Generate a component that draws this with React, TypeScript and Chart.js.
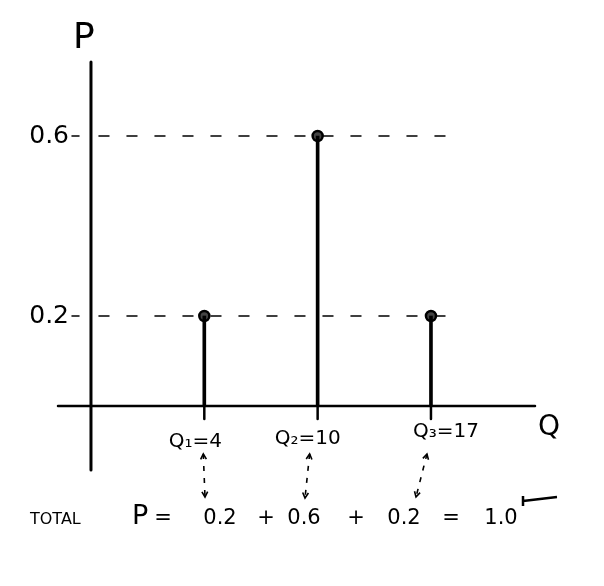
import React, { useEffect, useRef } from "react";
import { Chart, registerables } from "chart.js";

Chart.register(...registerables);

// ---- data ----
const categories = ["Q₁=4", "Q₂=10", "Q₃=17"];
const qValues = [4, 10, 17];
const probs = [0.2, 0.6, 0.2];
const yTickValues = [0.2, 0.6];
const yTickLabels = ["0.2", "0.6"];
const axisTitleY = "P";
const axisTitleX = "Q";
const totalLabel = "TOTAL";
const totalSymbol = "P";
const totalTokens = ["=", "0.2", "+", "0.6", "+", "0.2", "=", "1.0"];

const FONT = "'DejaVu Sans', sans-serif";

const sketchPlugin = {
  id: "sketch",
  beforeDatasetsDraw(chart: any) {
    const { ctx, chartArea, scales } = chart;
    const xs = scales.x;
    const ys = scales.y;
    const ax = xs.getPixelForValue(0);
    const ay = ys.getPixelForValue(0);
    ctx.save();
    ctx.strokeStyle = "#000";
    ctx.lineCap = "round";
    // y axis
    ctx.lineWidth = 3;
    ctx.beginPath();
    ctx.moveTo(ax, chartArea.top);
    ctx.lineTo(ax, chartArea.bottom);
    ctx.stroke();
    // x axis
    ctx.lineWidth = 2.5;
    ctx.beginPath();
    ctx.moveTo(chartArea.left, ay);
    ctx.lineTo(chartArea.right, ay);
    ctx.stroke();
    // stem ticks below axis
    ctx.lineWidth = 2.5;
    probs.forEach((_, i) => {
      const x = xs.getPixelForValue(i + 1);
      ctx.beginPath();
      ctx.moveTo(x, ay);
      ctx.lineTo(x, ay + 13);
      ctx.stroke();
    });
    // dashed reference lines + y tick labels
    ctx.lineWidth = 1.5;
    const xEnd = xs.getPixelForValue(3.2);
    yTickValues.forEach((v, i) => {
      const y = ys.getPixelForValue(v);
      ctx.setLineDash([10, 18]);
      ctx.beginPath();
      ctx.moveTo(ax + 8, y);
      ctx.lineTo(xEnd, y);
      ctx.stroke();
      ctx.setLineDash([]);
      ctx.beginPath();
      ctx.moveTo(ax - 19, y);
      ctx.lineTo(ax - 12, y);
      ctx.stroke();
      ctx.fillStyle = "#000";
      ctx.font = `25px ${FONT}`;
      ctx.textAlign = "right";
      ctx.textBaseline = "middle";
      ctx.fillText(yTickLabels[i], ax - 22, y + 1);
    });
    ctx.restore();
  },
  afterDatasetsDraw(chart: any) {
    const { ctx, chartArea, scales } = chart;
    const xs = scales.x;
    const ys = scales.y;
    const ax = xs.getPixelForValue(0);
    const ay = ys.getPixelForValue(0);
    ctx.save();
    ctx.fillStyle = "#000";
    ctx.strokeStyle = "#000";
    ctx.textBaseline = "alphabetic";
    ctx.textAlign = "center";
    // axis titles
    ctx.font = `36px ${FONT}`;
    ctx.fillText(axisTitleY, ax - 7, chartArea.top - 14);
    ctx.font = `28px ${FONT}`;
    ctx.fillText(axisTitleX, chartArea.right + 14, ay + 29);
    // category labels
    ctx.font = `20px ${FONT}`;
    const labelDx = [-9, -10, 15];
    const labelDy = [41, 38, 31];
    categories.forEach((c, i) => {
      const x = xs.getPixelForValue(i + 1);
      ctx.fillText(c, x + labelDx[i], ay + labelDy[i]);
    });
    // total line
    const base = 516;
    ctx.textAlign = "left";
    ctx.font = `16px ${FONT}`;
    ctx.fillText(totalLabel, 22, base);
    ctx.font = `27px ${FONT}`;
    ctx.fillText(totalSymbol, 124, base);
    ctx.textAlign = "center";
    ctx.font = `21px ${FONT}`;
    const centers = [155, 212, 258, 296, 348, 396, 443, 493];
    totalTokens.forEach((t, i) => ctx.fillText(t, centers[i], base));
    ctx.lineWidth = 2.5;
    ctx.beginPath();
    ctx.moveTo(515, 488);
    ctx.lineTo(515, 498);
    ctx.moveTo(515, 493);
    ctx.lineTo(549, 489);
    ctx.stroke();
    // dashed arrows from labels to equation
    const arrows = [
      [xs.getPixelForValue(1) - 1, 446, 197, 489],
      [xs.getPixelForValue(2) - 8, 446, 297, 490],
      [xs.getPixelForValue(3) - 4, 446, 408, 489],
    ];
    ctx.lineWidth = 1.6;
    arrows.forEach(([x1, y1, x2, y2]) => {
      ctx.setLineDash([5, 7]);
      ctx.beginPath();
      ctx.moveTo(x1, y1);
      ctx.lineTo(x2, y2);
      ctx.stroke();
      ctx.setLineDash([]);
      const ang = Math.atan2(y2 - y1, x2 - x1);
      const head = (px: number, py: number, a: number) => {
        ctx.beginPath();
        ctx.moveTo(px + 6 * Math.cos(a + 0.5), py + 6 * Math.sin(a + 0.5));
        ctx.lineTo(px, py);
        ctx.lineTo(px + 6 * Math.cos(a - 0.5), py + 6 * Math.sin(a - 0.5));
        ctx.stroke();
      };
      head(x1, y1, ang);
      head(x2, y2, ang + Math.PI);
    });
    ctx.restore();
  },
};

export default function App() {
  const ref = useRef<HTMLCanvasElement>(null);
  useEffect(() => {
    if (!ref.current) return;
    const points = probs.map((p, i) => ({ x: i + 1, y: p, q: qValues[i] }));
    const chart = new Chart(ref.current, {
      type: "bar",
      data: {
        datasets: [
          {
            type: "bar",
            data: points,
            backgroundColor: "#000",
            barThickness: 3,
          } as any,
          {
            type: "line",
            data: points,
            showLine: false,
            pointRadius: 5,
            pointBorderWidth: 2.5,
            pointBorderColor: "#000",
            pointBackgroundColor: "#444",
          } as any,
        ],
      },
      options: {
        animation: false,
        responsive: false,
        maintainAspectRatio: false,
        layout: { padding: { left: 50, top: 54, right: 61, bottom: 108 } },
        plugins: { legend: { display: false }, tooltip: { enabled: false } },
        scales: {
          x: { type: "linear", min: -0.291, max: 3.918, offset: false, display: false },
          y: { type: "linear", min: -0.1422, max: 0.7644, display: false },
        },
      },
      plugins: [sketchPlugin],
    });
    return () => chart.destroy();
  }, []);
  return <canvas ref={ref} width={588} height={570} style={{ display: "block" }} />;
}
